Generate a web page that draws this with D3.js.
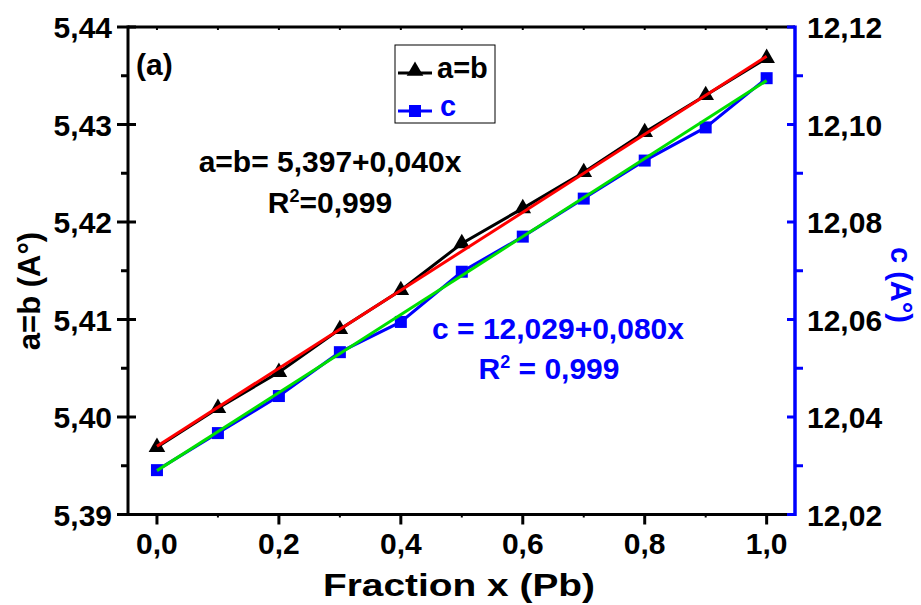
<!DOCTYPE html>
<html><head><meta charset="utf-8">
<script src="https://cdn.jsdelivr.net/npm/d3@7"></script>
<style>
body{margin:0;background:#fff;}
text{font-family:"Liberation Sans",Arial,Helvetica,sans-serif;font-weight:bold;}
</style></head>
<body><svg id="c" width="921" height="605"></svg>
<script>
const xValues = [0.0,0.1,0.2,0.3,0.4,0.5,0.6,0.7,0.8,0.9,1.0];
const abValues = [5.3969,5.4009,5.4046,5.4090,5.4130,5.4178,5.4214,5.4251,5.4292,5.4330,5.4368];
const cValues = [12.0291,12.0367,12.0443,12.0533,12.0595,12.0698,12.0770,12.0848,12.0926,12.0994,12.1095];
const fitX = [0.0, 1.0];
const fitAB = [5.397, 5.437];
const fitC = [12.029, 12.109];
const xTicks = [0.0,0.2,0.4,0.6,0.8,1.0];
const xMinor = [0.1,0.3,0.5,0.7,0.9];
const leftTicks = [5.39,5.40,5.41,5.42,5.43,5.44];
const leftMinor = [5.395,5.405,5.415,5.425,5.435];
const rightTicks = [12.02,12.04,12.06,12.08,12.10,12.12];
const rightMinor = [12.03,12.05,12.07,12.09,12.11];
const fmt2 = d => d.toFixed(2).replace('.', ',');
const fmt1 = d => d.toFixed(1).replace('.', ',');

const svg = d3.select('#c');
const L=128, R=795, T=27, B=514.5;
const x = d3.scaleLinear().domain([-0.0475,1.0465]).range([L,R]);
const yL = d3.scaleLinear().domain([5.39,5.44]).range([B,T]);
const yR = d3.scaleLinear().domain([12.02,12.12]).range([B,T]);

// Data lines
const lineAB = d3.line().x((d,i)=>x(xValues[i])).y(d=>yL(d));
const lineC = d3.line().x((d,i)=>x(xValues[i])).y(d=>yR(d));
svg.append('path').attr('d',lineAB(abValues)).attr('fill','none').attr('stroke','#000').attr('stroke-width',3);
svg.selectAll('.tri').data(abValues).enter().append('path')
  .attr('d',d3.symbol().type(d3.symbolTriangle).size(120)())
  .attr('transform',(d,i)=>`translate(${x(xValues[i])},${yL(d)})`).attr('fill','#000');
svg.append('path').attr('d',lineC(cValues)).attr('fill','none').attr('stroke','#0000ff').attr('stroke-width',3);
svg.selectAll('.sq').data(cValues).enter().append('path')
  .attr('d',d3.symbol().type(d3.symbolSquare).size(144)())
  .attr('transform',(d,i)=>`translate(${x(xValues[i])},${yR(d)})`).attr('fill','#0000ff');
// fits
const fitLL = d3.line().x((d,i)=>x(fitX[i])).y(d=>yL(d));
const fitLR = d3.line().x((d,i)=>x(fitX[i])).y(d=>yR(d));
svg.append('path').attr('d',fitLL(fitAB)).attr('stroke','#ff0000').attr('stroke-width',3).attr('fill','none');
svg.append('path').attr('d',fitLR(fitC)).attr('stroke','#00e000').attr('stroke-width',3).attr('fill','none');

// Axes frame
svg.append('line').attr('x1',L).attr('x2',R).attr('y1',T).attr('y2',T).attr('stroke','#000').attr('stroke-width',3);
svg.append('line').attr('x1',L).attr('x2',R).attr('y1',B).attr('y2',B).attr('stroke','#000').attr('stroke-width',3);
svg.append('line').attr('x1',L).attr('x2',L).attr('y1',T-1.5).attr('y2',B+1.5).attr('stroke','#000').attr('stroke-width',3);
svg.append('line').attr('x1',R).attr('x2',R).attr('y1',T-1.5).attr('y2',B+1.5).attr('stroke','#0000ff').attr('stroke-width',3.5);

// bottom ticks
svg.selectAll('.bt').data(xTicks).enter().append('line')
  .attr('x1',d=>x(d)).attr('x2',d=>x(d)).attr('y1',B).attr('y2',B+10).attr('stroke','#000').attr('stroke-width',3);
svg.selectAll('.bm').data(xMinor).enter().append('line')
  .attr('x1',d=>x(d)).attr('x2',d=>x(d)).attr('y1',B).attr('y2',B+3).attr('stroke','#000').attr('stroke-width',2);
svg.selectAll('.tt').data(xTicks.concat(xMinor)).enter().append('line')
  .attr('x1',d=>x(d)).attr('x2',d=>x(d)).attr('y1',T).attr('y2',T+3).attr('stroke','#000').attr('stroke-width',2);
svg.selectAll('.bl').data(xTicks).enter().append('text')
  .attr('x',d=>x(d)).attr('y',554).attr('text-anchor','middle').attr('font-size',30).text(fmt1);

// left ticks
svg.selectAll('.lt').data(leftTicks).enter().append('line')
  .attr('x1',L-11).attr('x2',L+8).attr('y1',d=>yL(d)).attr('y2',d=>yL(d)).attr('stroke','#000').attr('stroke-width',3);
svg.selectAll('.lm').data(leftMinor).enter().append('line')
  .attr('x1',L-7).attr('x2',L).attr('y1',d=>yL(d)).attr('y2',d=>yL(d)).attr('stroke','#000').attr('stroke-width',3);
svg.selectAll('.ll').data(leftTicks).enter().append('text')
  .attr('x',112).attr('y',d=>yL(d)+11).attr('text-anchor','end').attr('font-size',30).text(fmt2);

// right ticks
svg.selectAll('.rt').data(rightTicks).enter().append('line')
  .attr('x1',R-8).attr('x2',R).attr('y1',d=>yR(d)).attr('y2',d=>yR(d)).attr('stroke','#0000ff').attr('stroke-width',3);
svg.selectAll('.rm').data(rightMinor).enter().append('line')
  .attr('x1',R).attr('x2',R+8).attr('y1',d=>yR(d)).attr('y2',d=>yR(d)).attr('stroke','#0000ff').attr('stroke-width',3);
svg.selectAll('.rl').data(rightTicks).enter().append('text')
  .attr('x',807).attr('y',d=>yR(d)+11).attr('text-anchor','start').attr('font-size',30).text(fmt2);

// axis titles
svg.append('text').attr('x',323).attr('y',596).attr('font-size',32)
  .attr('textLength',272).attr('lengthAdjust','spacingAndGlyphs').text('Fraction x (Pb)');
svg.append('text').attr('transform','translate(40,291) rotate(-90)').attr('text-anchor','middle').attr('font-size',31).text('a=b (A°)');
svg.append('text').attr('transform','translate(891,285) rotate(90)').attr('text-anchor','middle').attr('font-size',29).attr('fill','#0000ff').text('c (A°)');

// annotations
svg.append('text').attr('x',136).attr('y',75).attr('font-size',30).text('(a)');
svg.append('text').attr('x',330).attr('y',172).attr('text-anchor','middle').attr('font-size',30).attr('fill','#000').text('a=b= 5,397+0,040x');
const r1 = svg.append('text').attr('x',330).attr('y',213).attr('text-anchor','middle').attr('font-size',30).attr('fill','#000');
r1.append('tspan').text('R');
r1.append('tspan').attr('dy',-11).attr('font-size',18).text('2');
r1.append('tspan').attr('dy',11).text('=0,999');
svg.append('text').attr('x',558).attr('y',339).attr('text-anchor','middle').attr('font-size',30).attr('fill','#0000ff').text('c = 12,029+0,080x');
const r2 = svg.append('text').attr('x',549).attr('y',379).attr('text-anchor','middle').attr('font-size',30).attr('fill','#0000ff');
r2.append('tspan').text('R');
r2.append('tspan').attr('dy',-11).attr('font-size',18).text('2');
r2.append('tspan').attr('dy',11).text(' = 0,999');

// legend
svg.append('rect').attr('x',395).attr('y',45).attr('width',100).attr('height',78).attr('fill','none').attr('stroke','#000').attr('stroke-width',1);
svg.append('line').attr('x1',398).attr('x2',432).attr('y1',73).attr('y2',73).attr('stroke','#000').attr('stroke-width',3);
svg.append('path').attr('d',d3.symbol().type(d3.symbolTriangle).size(120)()).attr('transform','translate(415,71)').attr('fill','#000');
svg.append('text').attr('x',437).attr('y',78).attr('font-size',29).text('a=b');
svg.append('line').attr('x1',398).attr('x2',432).attr('y1',111).attr('y2',111).attr('stroke','#0000ff').attr('stroke-width',3);
svg.append('path').attr('d',d3.symbol().type(d3.symbolSquare).size(144)()).attr('transform','translate(415,111)').attr('fill','#0000ff');
svg.append('text').attr('x',440).attr('y',116).attr('font-size',29).attr('fill','#0000ff').text('c');
</script></body></html>
